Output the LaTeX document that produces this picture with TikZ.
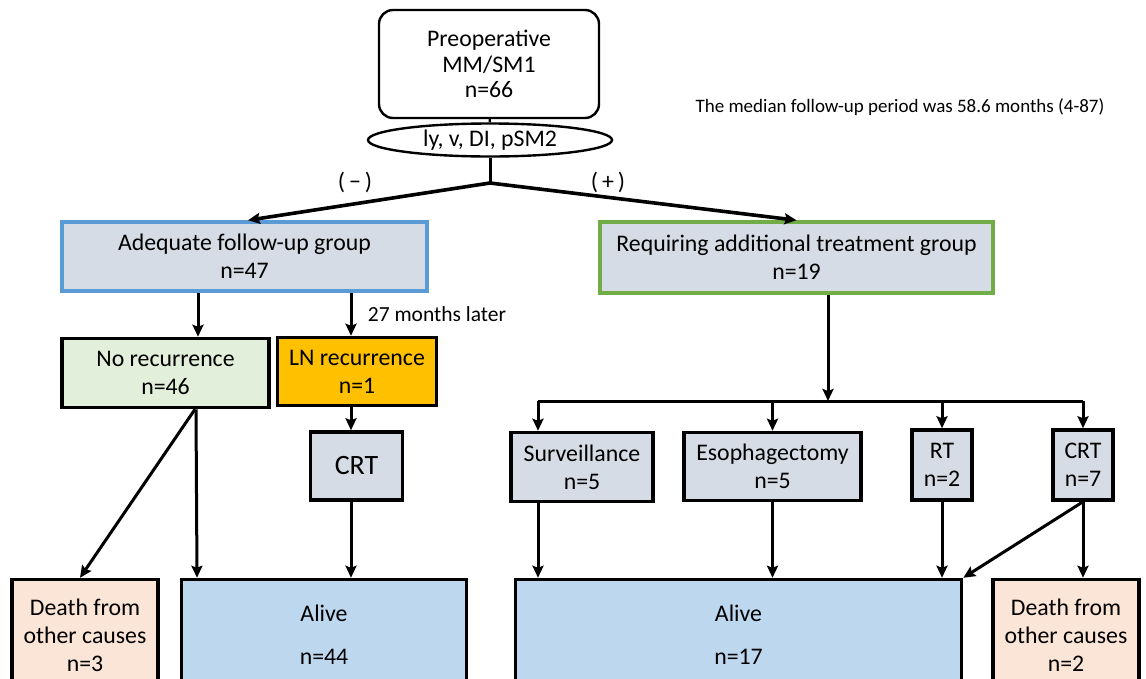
\documentclass[tikz,border=0pt]{standalone}
\usepackage{fontspec}
\setmainfont{Carlito}
\usetikzlibrary{arrows.meta,shapes.geometric,positioning}
\definecolor{boxgray}{HTML}{D6DCE5}
\definecolor{blueline}{HTML}{5B9BD5}
\definecolor{greenline}{HTML}{70AD47}
\definecolor{paleGreen}{HTML}{E2EFDA}
\definecolor{lnorange}{HTML}{FFC000}
\definecolor{alivefill}{HTML}{BDD7EE}
\definecolor{deathfill}{HTML}{FBE5D6}
\begin{document}
\begin{tikzpicture}[x=1pt, y=-1pt, line width=3pt,
    font=\fontsize{23.8}{28}\selectfont,
    >={Stealth[length=12pt, width=11pt, inset=2pt]},
    main/.style = {draw, line width=3.5pt, align=center, inner sep=1pt},
    topbox/.style = {draw, line width=2.4pt, rounded corners=14pt, align=center, font=\fontsize{23.8}{25.5}\selectfont},
    crit/.style = {draw, ellipse, line width=2.4pt, inner sep=0pt},
    note/.style = {font=\fontsize{19}{22}\selectfont}]
                  \useasboundingbox (0,0) rectangle (1146,678);
                  \node[topbox, minimum width=220pt, minimum height=108pt] (pre) at (489,64) {Preoperative\\MM/SM1\\n=66};
                  \node[crit, minimum width=244pt, minimum height=33pt] (lvdi) at (490,140) {ly, v, DI, pSM2};
                  \coordinate (fork) at (490,183);
                  \node (neg) at (355,182) {(\,−\,)};
                  \node (pos) at (608,182) {(\,+\,)};
                  \node[note] (median) at (900,107) {The median follow-up period was 58.6 months (4-87)};
                  \node[main, draw=blueline, fill=boxgray, minimum width=365pt, minimum height=69pt] (adequate) at (244.5,256.5) {Adequate follow-up group\\n=47};
                  \node[main, draw=greenline, fill=boxgray, minimum width=393pt, minimum height=71pt] (requiring) at (796.5,257.5) {Requiring additional treatment group\\n=19};
                  \node[main, fill=paleGreen, minimum width=207pt, minimum height=69pt] (norec) at (165.5,373) {No recurrence\\n=46};
                  \node[main, fill=lnorange, minimum width=159pt, minimum height=68pt] (lnrec) at (357,371.5) {LN recurrence\\n=1};
                  \node[note, font=\fontsize{21.5}{24}\selectfont] (later) at (437,314) {27 months later};
                  \node[main, fill=boxgray, minimum width=92pt, minimum height=68pt, font=\fontsize{28}{32}\selectfont] (crtL) at (356.5,466) {CRT};
                  \node[main, fill=deathfill, minimum width=146pt, minimum height=111pt] (deathL) at (85,635) {Death from\\other causes\\n=3};
                  \node[main, fill=alivefill, minimum width=285pt, minimum height=111pt] (aliveL) at (324,635) {Alive\\[15pt]n=44};
                  \coordinate (split) at (828,401);
                  \coordinate (barL) at (538,401);
                  \coordinate (barR) at (1083,401);
                  \node[main, fill=boxgray, minimum width=142pt, minimum height=69pt] (surv) at (582,467) {Surveillance\\n=5};
                  \node[main, fill=boxgray, minimum width=177pt, minimum height=68pt] (esoph) at (772.5,466.5) {Esophagectomy\\n=5};
                  \node[main, fill=boxgray, minimum width=60pt, minimum height=70pt] (rt) at (942,465) {RT\\n=2};
                  \node[main, fill=boxgray, minimum width=60pt, minimum height=70pt] (crtR) at (1083,465) {CRT\\n=7};
                  \node[main, fill=alivefill, minimum width=446pt, minimum height=111pt] (aliveR) at (738.5,635) {Alive\\[15pt]n=17};
                  \node[main, fill=deathfill, minimum width=146pt, minimum height=111pt] (deathR) at (1066,635) {Death from\\other causes\\n=2};
                  % top part
                  \draw[line width=2.4pt] (pre) -- (lvdi);
                  \draw (lvdi) -- (fork);
                  \draw[->, line width=3.6pt] (fork) -- ([xshift=3.5pt]adequate.north);
                  \draw[->, line width=3.6pt] (fork) -- (requiring.north);
                  % follow-up side
                  \draw[->] ([xshift=-46.5pt]adequate.south) -- ([xshift=32.5pt]norec.north);
                  \draw[->] ([xshift=106.5pt]adequate.south) -- ([xshift=-6pt]lnrec.north);
                  \draw[->] ([xshift=-6pt]lnrec.south) -- ([xshift=-5.5pt]crtL.north);
                  \draw[->] ([xshift=-5.5pt]crtL.south) -- ([xshift=27pt]aliveL.north);
                  \draw[->] ([xshift=29.5pt]norec.south) -- ([xshift=-5pt]deathL.north);
                  \draw[->] ([xshift=30.5pt]norec.south) -- ([xshift=-127pt]aliveL.north);
                  % additional treatment side
                  \draw[->] ([xshift=31.5pt]requiring.south) -- (split);
                  \draw (barL) -- (barR);
                  \draw[->] (barL) -- ([xshift=-44pt]surv.north);
                  \draw[->] (barL -| esoph) -- (esoph.north);
                  \draw[->] (barL -| rt) -- (rt.north);
                  \draw[->] (barR) -- (crtR.north);
                  \draw[->] ([xshift=-44pt]surv.south) -- ([xshift=-200.5pt]aliveR.north);
                  \draw[->] (esoph.south) -- (esoph.south |- aliveR.north);
                  \draw[->] (rt.south) -- (rt.south |- aliveR.north);
                  \draw[->] (crtR.south) -- (aliveR.north east);
                  \draw[->] (crtR.south) -- ([xshift=17pt]deathR.north);
\end{tikzpicture}
\end{document}
